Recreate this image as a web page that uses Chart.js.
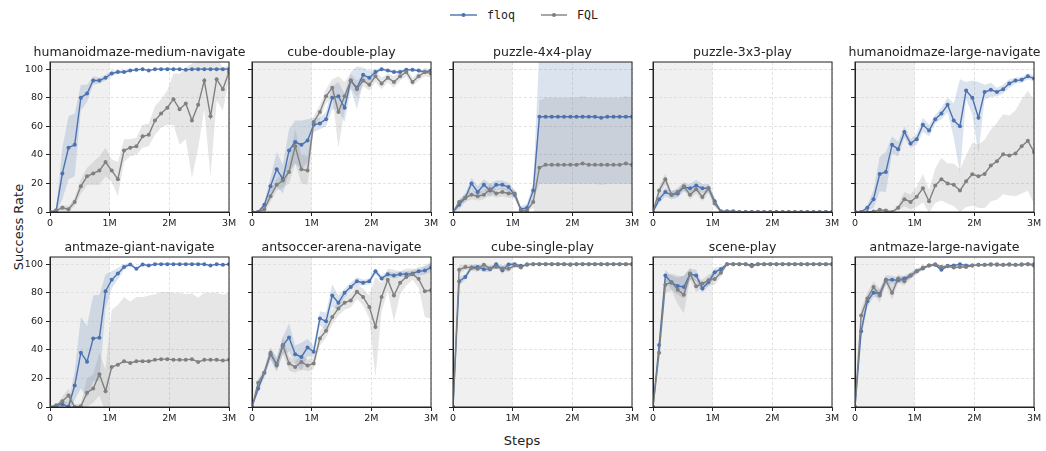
<!DOCTYPE html>
<html>
<head>
<meta charset="utf-8">
<script src="https://cdn.jsdelivr.net/npm/chart.js@4.4.1/dist/chart.umd.min.js"></script>
<style>
  html, body { margin: 0; padding: 0; background: #fff; }
  #fig { position: relative; width: 1046px; height: 451px; overflow: hidden; font-family: 'DejaVu Sans', sans-serif; color: #222; }
  .panel { position: absolute; width: 227px; height: 200px; }
  .lbl { position: absolute; white-space: nowrap; }
  .ttl { position: absolute; white-space: nowrap; font-size: 12.5px; line-height: 15px; transform: translate(-50%, -50%); }
  .mono { font-family: 'DejaVu Sans Mono', monospace; font-size: 11.6px; line-height: 16px; }
</style>
</head>
<body>
<div id="fig">
  <svg class="lbl" style="left:450px;top:9px" width="28" height="12"><line x1="0" y1="6" x2="27" y2="6" stroke="#4c72b0" stroke-width="1.4"/><circle cx="13.5" cy="6" r="2" fill="#4c72b0"/></svg>
  <span class="lbl mono" style="left:487px;top:7px">floq</span>
  <svg class="lbl" style="left:541px;top:9px" width="28" height="12"><line x1="0" y1="6" x2="26" y2="6" stroke="#808080" stroke-width="1.4"/><circle cx="13" cy="6" r="2" fill="#808080"/></svg>
  <span class="lbl mono" style="left:577px;top:7px">FQL</span>
  <div class="lbl" style="left:18px;top:227px;font-size:13px;transform:translate(-50%,-50%) rotate(-90deg)">Success Rate</div>
  <div class="lbl" style="left:522px;top:440px;font-size:13px;transform:translate(-50%,-50%)">Steps</div>
</div>
<script>
// evaluation steps (in thousands of env steps), 30 evals over 3M
const steps = [0,103,207,310,414,517,621,724,828,931,1034,1138,1241,1345,1448,1552,1655,1759,1862,1966,2069,2172,2276,2379,2483,2586,2690,2793,2897,3000];
const xTicks = [0, 1000, 2000, 3000];
const xTickLabels = ['0', '1M', '2M', '3M'];
const yTicks = [0, 20, 40, 60, 80, 100];
const offlineSteps = 1000; // shaded offline phase

// humanoidmaze-medium-navigate
const hmMedFloq = [0,1,27,45,47,80,83,92,92,94, 97,98,98,99,99.5,100,99,100,100,100, 100,100,99.5,100,100,100,100,100,100,100];
const hmMedFloqStd = [0,1,18,22,22,9,6,3,2,2, 2,1,1,1,0.5,0.5,0.5,0.5,0.5,0.5, 0.5,0.5,0.5,0.5,0.5,0.5,0.5,0.5,0.5,0.5];
const hmMedFql = [0,1,3,2,7,18,25,27,29,35, 29,23,43,45,46,53,54,64,69,73, 79,72,76,64,75,92,67,93,86,98];
const hmMedFqlStd = [0,1,2,2,3,5,6,8,10,10, 8,12,8,6,6,8,8,10,10,12, 18,25,25,40,30,20,42,15,15,5];

// cube-double-play
const cubeDoubleFloq = [0,0,5,18,30,23,43,49,47,50, 61,62,65,80,81,73,92,87,96,94, 98,100,99,98,98,99.5,99.5,99,98,99];
const cubeDoubleFloqStd = [0,0.5,2,6,12,10,15,15,17,15, 5,4,5,8,10,10,6,15,5,5, 2,1,1,1,1,1,1,1,1,1];
const cubeDoubleFql = [0,0,2,11,19,22,28,46,30,29, 63,70,81,87,70,81,92,86,92,89, 95,90,94,91,95,98,91,95,98,97];
const cubeDoubleFqlStd = [0,0.5,2,4,4,5,8,12,10,10, 4,5,5,6,25,10,5,6,4,4, 4,4,3,4,3,3,3,3,3,3];

// puzzle-4x4-play
const puzzle4Floq = [0,5,10,20,14,19,15,19,19,17.5, 12,2,3,15,66.7,66.7,66.7,66.7,66.7,66.7, 66.7,66.7,66.7,66.7,66,66.7,66.7,66.7,66.7,66.7];
const puzzle4FloqStd = [0,3,3,4,4,4,5,3,3,3, 3,2,3,6,47,47,47,47,47,47, 47,47,47,47,47,47,47,47,47,47];
const puzzle4Fql = [0,7,10,12,11,12,16,13,14,13, 13,1,1,7,31,33,33,33,33,33, 33,34,33,33,33,33,33,33,34,33];
const puzzle4FqlStd = [0,2,3,3,3,3,4,3,3,3, 3,1,1,4,47,47,47,47,47,47, 47,47,47,47,47,47,47,47,47,47];

// puzzle-3x3-play
const puzzle3Floq = [0,9,14,12,13,17.5,16.6,18.5,16.6,16.6, 7.5,0.5,0.5,0.5,0,0,0,0,0,0, 0,0,0,0,0,0,0,0,0,0];
const puzzle3FloqStd = [0,3,3,3,3,3,3,4,3,3, 3,0.5,0.5,0.5,0,0,0,0,0,0, 0,0,0,0,0,0,0,0,0,0];
const puzzle3Fql = [0,15,23,12,14,18,12,16,10.5,16.6, 6,0,0,0,0,0,0,0,0,0, 0,0,0,0,0,0,0,0,0,0];
const puzzle3FqlStd = [0,3,4,2,3,3,3,3,3,3, 3,0,0,0,0,0,0,0,0,0, 0,0,0,0,0,0,0,0,0,0];

// humanoidmaze-large-navigate
const hmLargeFloq = [0,0,3,9,26.6,28,47,44,56,48, 51,61,57,65,69,75,64,60,85,80, 66,84,85.5,84,86,90,92,92.5,95,93.5];
const hmLargeFloqStd = [0,0.5,2,6,12,14,6,5,4,3, 4,5,4,3,4,5,12,33,6,12, 25,5,5,3,3,3,2,2,2,2];
const hmLargeFql = [0,0,0,0.3,1.5,1,0,3,9,7, 10.7,16.6,7.5,18.5,23,20,19,15,21.5,26.4, 25,26.6,32.5,35.5,40.4,39.5,41,46,49.8,42];
const hmLargeFqlStd = [0,0.5,0.5,0.5,1,1,1,2,5,5, 7,10,8,12,15,14,15,15,18,22, 22,24,25,27,28,28,30,33,35,36];

// antmaze-giant-navigate
const antGiantFloq = [0,1,2,0.3,15,38,31.7,48,48.5,81, 89,93.5,98,99.8,96.7,99.8,99,100,100,100, 100,100,100,100,100,100,99,100,99.5,100];
const antGiantFloqStd = [0,1,2,3,10,25,25,30,30,12, 6,4,2,1,1,1,1,0.5,0.5,0.5, 0.5,0.5,0.5,0.5,0.5,0.5,0.5,0.5,0.5,0.5];
const antGiantFql = [0,1,4,8,0,0.5,10,13,23,11, 28,29.6,32,30.8,32,32,32,33,33.5,33.5, 33,33,33,33.5,31.5,33,33,33,32.5,33];
const antGiantFqlStd = [0,1,3,5,2,2,10,10,15,15, 40,42,45,43,45,45,46,46,47,47, 47,47,46,46,45,47,47,47,46,47];

// antsoccer-arena-navigate
const antSoccerFloq = [0,13,24,37,30,43,48.7,37,35,41.7, 38.7,62,60,78,73,80,84,88,87,88, 95,90,93,92,93,93,93.5,95,95.5,97.7];
const antSoccerFloqStd = [0,3,3,4,5,6,10,6,10,6, 4,5,6,8,5,3,3,3,2,2, 2,2,2,2,2,2,2,3,3,3];
const antSoccerFql = [0,17,24,38,29,43.4,30.5,28,31.5,29, 30.5,48,53.4,63,69,73,74.6,80.6,77,70, 56,77,89,78,87,91,93,89.7,81,81.8];
const antSoccerFqlStd = [0,3,3,4,4,6,5,4,5,4, 4,5,5,5,5,5,5,5,6,8, 35,10,8,18,8,6,4,6,18,20];

// cube-single-play
const cubeSingleFloq = [0,88,91,97.7,98,96.5,96.5,100,95.8,99.8, 100,98.8,99.5,100,100,100,100,100,100,99.5, 100,100,100,100,100,100,100,100,100,100];
const cubeSingleFloqStd = [0,3,2,2,2,2,2,1,3,1, 1,1,0.5,0.5,0.5,0.5,0.5,0.5,0.5,0.5, 0.5,0.5,0.5,0.5,0.5,0.5,0.5,0.5,0.5,0.5];
const cubeSingleFql = [0,96,98,97.4,96.7,99.5,97,98,97,96.7, 99,97.6,100,100,100,100,100,100,100,100, 100,100,100,100,100,100,100,100,100,100];
const cubeSingleFqlStd = [0,3,2,2,2,1,2,1,2,2, 1,1,0.5,0.5,0.5,0.5,0.5,0.5,0.5,0.5, 0.5,0.5,0.5,0.5,0.5,0.5,0.5,0.5,0.5,0.5];

// scene-play
const sceneFloq = [0,43.4,92,87,84.7,84,93,92,83,87.5, 94.4,96.5,100,100,100,100,99.5,100,100,100, 100,100,100,100,100,100,100,100,100,100];
const sceneFloqStd = [0,4,4,5,6,8,4,4,3,3, 3,2,0.5,0.5,0.5,0.5,0.5,0.5,0.5,0.5, 0.5,0.5,0.5,0.5,0.5,0.5,0.5,0.5,0.5,0.5];
const sceneFql = [0,38,85.6,87.5,82,78.6,93.4,84.5,86.4,88.7, 89.6,94,100,100,100,100,98.6,100,100,100, 100,100,100,100,100,100,100,100,100,100];
const sceneFqlStd = [0,4,6,6,10,13,4,4,3,4, 4,3,0.5,0.5,0.5,0.5,1,0.5,0.5,0.5, 0.5,0.5,0.5,0.5,0.5,0.5,0.5,0.5,0.5,0.5];

// antmaze-large-navigate
const antLargeFloq = [0,53,74,80,79.3,89,89,88.7,90,92, 95,97,99,99.5,96,98.8,99,100,99,99, 99.5,99.5,100,99.5,99.5,100,99.5,99.5,100,99];
const antLargeFloqStd = [0,5,4,3,3,3,3,2,2,2, 2,1,1,1,1,1,1,0.5,0.5,0.5, 0.5,0.5,0.5,0.5,0.5,0.5,0.5,0.5,0.5,0.5];
const antLargeFql = [0,64,76,84,78,88.7,80,90,88,92, 95,97.6,99,100,98,98.5,97.6,98,98,99, 99.5,99.5,99.5,100,99.5,99.5,99.5,100,100,100];
const antLargeFqlStd = [0,5,4,4,5,3,5,3,3,2, 2,1,1,1,1,1,1,1,1,0.5, 0.5,0.5,0.5,0.5,0.5,0.5,0.5,0.5,0.5,0.5];

const panels = [
  { title: 'humanoidmaze-medium-navigate', floq: hmMedFloq, floqStd: hmMedFloqStd, fql: hmMedFql, fqlStd: hmMedFqlStd },
  { title: 'cube-double-play', floq: cubeDoubleFloq, floqStd: cubeDoubleFloqStd, fql: cubeDoubleFql, fqlStd: cubeDoubleFqlStd },
  { title: 'puzzle-4x4-play', floq: puzzle4Floq, floqStd: puzzle4FloqStd, fql: puzzle4Fql, fqlStd: puzzle4FqlStd },
  { title: 'puzzle-3x3-play', floq: puzzle3Floq, floqStd: puzzle3FloqStd, fql: puzzle3Fql, fqlStd: puzzle3FqlStd },
  { title: 'humanoidmaze-large-navigate', floq: hmLargeFloq, floqStd: hmLargeFloqStd, fql: hmLargeFql, fqlStd: hmLargeFqlStd },
  { title: 'antmaze-giant-navigate', floq: antGiantFloq, floqStd: antGiantFloqStd, fql: antGiantFql, fqlStd: antGiantFqlStd },
  { title: 'antsoccer-arena-navigate', floq: antSoccerFloq, floqStd: antSoccerFloqStd, fql: antSoccerFql, fqlStd: antSoccerFqlStd },
  { title: 'cube-single-play', floq: cubeSingleFloq, floqStd: cubeSingleFloqStd, fql: cubeSingleFql, fqlStd: cubeSingleFqlStd },
  { title: 'scene-play', floq: sceneFloq, floqStd: sceneFloqStd, fql: sceneFql, fqlStd: sceneFqlStd },
  { title: 'antmaze-large-navigate', floq: antLargeFloq, floqStd: antLargeFloqStd, fql: antLargeFql, fqlStd: antLargeFqlStd },
];

const FONT = "'DejaVu Sans', sans-serif";
const FLOQ_C = '#4c72b0', FQL_C = '#808080';
const FLOQ_BAND = 'rgba(76,114,176,0.2)', FQL_BAND = 'rgba(128,128,128,0.2)';
const colLeft = [50, 252, 453, 653, 855];
const rowTop = [62, 257];
const PLOT_W = 179;
const AXIS_W = 36, TITLE_H = 26;

// offline shading + full box around each axes
const framePlugin = {
  id: 'frame',
  beforeDraw(chart) {
    const { ctx, chartArea: a, scales: { x } } = chart;
    ctx.save();
    ctx.fillStyle = '#f0f0f0';
    const x1 = x.getPixelForValue(offlineSteps);
    ctx.fillRect(a.left, a.top, x1 - a.left, a.bottom - a.top);
    ctx.restore();
  },
  afterDraw(chart) {
    const { ctx, chartArea: a } = chart;
    ctx.save();
    ctx.strokeStyle = '#222';
    ctx.lineWidth = 1;
    ctx.strokeRect(a.left, a.top, a.right - a.left, a.bottom - a.top);
    ctx.restore();
  }
};

const fig = document.getElementById('fig');
const pts = arr => steps.map((s, i) => ({ x: s, y: arr[i] }));
const band = (m, sd, sign) => steps.map((s, i) => ({ x: s, y: m[i] + sign * sd[i] }));
const lineDs = (data, color, order) => ({
  data, borderColor: color, backgroundColor: color, borderWidth: 1.4,
  pointRadius: 2, pointBorderWidth: 0, pointBackgroundColor: color,
  fill: false, order, tension: 0
});
const bandDs = (data, fill, color, order) => ({
  data, borderColor: 'rgba(0,0,0,0)', borderWidth: 0, pointRadius: 0,
  fill, backgroundColor: color, order, tension: 0
});

panels.forEach((p, k) => {
  const row = Math.floor(k / 5), col = k % 5;
  const box = document.createElement('div');
  box.className = 'panel';
  box.style.left = (colLeft[col] - AXIS_W) + 'px';
  box.style.top = (rowTop[row] - TITLE_H) + 'px';
  const cv = document.createElement('canvas');
  box.appendChild(cv);
  fig.appendChild(box);

  const ttl = document.createElement('div');
  ttl.className = 'ttl';
  ttl.textContent = p.title;
  ttl.style.left = (colLeft[col] + PLOT_W / 2) + 'px';
  ttl.style.top = (rowTop[row] - 11) + 'px';
  fig.appendChild(ttl);

  new Chart(cv, {
    type: 'line',
    data: {
      datasets: [
        lineDs(pts(p.fql), FQL_C, 0),
        lineDs(pts(p.floq), FLOQ_C, 1),
        bandDs(band(p.fql, p.fqlStd, 1), '+1', FQL_BAND, 2),
        bandDs(band(p.fql, p.fqlStd, -1), false, FQL_BAND, 3),
        bandDs(band(p.floq, p.floqStd, 1), '+1', FLOQ_BAND, 4),
        bandDs(band(p.floq, p.floqStd, -1), false, FLOQ_BAND, 5),
      ]
    },
    options: {
      responsive: true,
      maintainAspectRatio: false,
      animation: false,
      events: [],
      layout: { padding: { left: 0, right: 12, top: TITLE_H, bottom: 0 } },
      plugins: {
        legend: { display: false },
        tooltip: { enabled: false },
        title: { display: false }
      },
      scales: {
        x: {
          type: 'linear', min: 0, max: 3000,
          afterBuildTicks: s => { s.ticks = xTicks.map(v => ({ value: v })); },
          afterFit: s => { s.height = 24; s.paddingLeft = 0; s.paddingRight = 0; },
          ticks: {
            callback: (v, i) => xTickLabels[i],
            color: '#222', font: { family: FONT, size: 9.5 },
            padding: 2, maxRotation: 0, autoSkip: false
          },
          grid: { color: '#dcdcdc', lineWidth: 0.8, tickLength: 4, tickColor: '#222', tickWidth: 1 },
          border: { display: true, color: '#222', width: 1, dash: [3, 2] }
        },
        y: {
          min: 0, max: 105,
          afterBuildTicks: s => { s.ticks = yTicks.map(v => ({ value: v })); },
          afterFit: s => { s.width = AXIS_W; s.paddingTop = 0; s.paddingBottom = 0; },
          ticks: {
            callback: v => (col === 0 ? String(v) : ''),
            color: '#222', font: { family: FONT, size: 9.5 }, padding: 3
          },
          grid: { color: '#dcdcdc', lineWidth: 0.8, tickLength: 4, tickColor: '#222', tickWidth: 1 },
          border: { display: true, color: '#222', width: 1, dash: [3, 2] }
        }
      }
    },
    plugins: [framePlugin]
  });
});
</script>
</body>
</html>
